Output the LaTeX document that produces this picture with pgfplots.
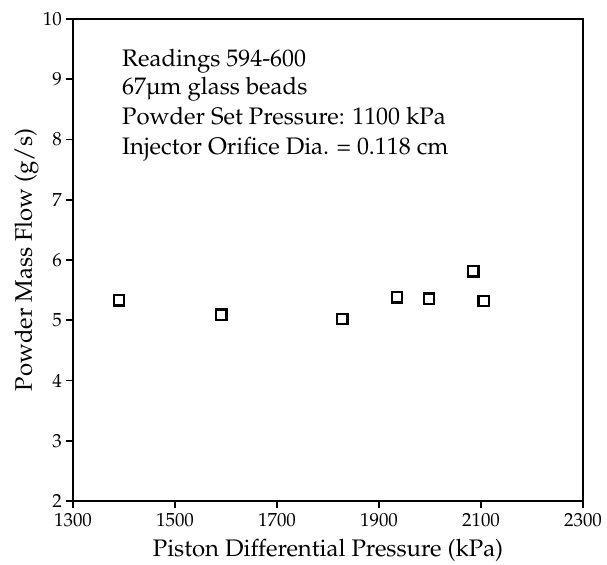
\documentclass[border=0pt]{standalone}
\usepackage[T1]{fontenc}
\usepackage{textcomp}
\usepackage{mathpazo}
\usepackage{pgfplots}
\pgfplotsset{compat=1.18}

\begin{document}
\begin{tikzpicture}
\begin{axis}[
  at={(0,0)}, anchor=south west,
  scale only axis,
  width=510bp, height=482bp,
  xmin=1300, xmax=2300, ymin=2, ymax=10,
  xtick={1300,1500,...,2300},
  ytick={2,3,...,10},
  axis line style={line width=1.8bp},
  tick style={line width=1.6bp, black},
  major tick length=7bp,
  tick align=outside,
  xtick pos=bottom, ytick pos=left,
  /pgf/number format/assume math mode=true,
  /pgf/number format/set thousands separator={},
  ticklabel style={font=\fontsize{19}{21}\selectfont, inner sep=0pt},
  xticklabel style={anchor=north, yshift=-5bp},
  yticklabel style={anchor=east, xshift=-4bp},
  xlabel={Piston Differential Pressure (kPa)},
  ylabel={Powder Mass Flow (g/s)},
  label style={font=\fontsize{24}{28}\selectfont, inner sep=0pt},
  xlabel style={at={(axis description cs:0.5,-0.1156)}, anchor=base},
  ylabel style={at={(axis description cs:-0.0805,0.5)}, anchor=base},
  clip=false,
]
\addplot[only marks, mark=square, mark size=5.2bp,
         mark options={line width=2.3bp, black, fill=white}]
  coordinates {
    (1390,5.33) (1591,5.09) (1828,5.02) (1935,5.38)
    (1998,5.36) (2085,5.81) (2105,5.32)
  };

\begin{scope}[every node/.style={anchor=base west, inner sep=0pt,
      font=\fontsize{24}{28}\selectfont}]
  \node at (axis cs:1396,9.208) {Readings 594-600};
  \node at (axis cs:1396,8.739) {67\textmu m glass beads};
  \node at (axis cs:1396,8.241) {Powder Set Pressure: 1100 kPa};
  \node at (axis cs:1396,7.759) {Injector Orifice Dia. = 0.118 cm};
\end{scope}
\end{axis}
\pgfresetboundingbox
\path[use as bounding box] (-73bp,-64bp) rectangle (534bp,501bp);
\end{tikzpicture}
\end{document}
